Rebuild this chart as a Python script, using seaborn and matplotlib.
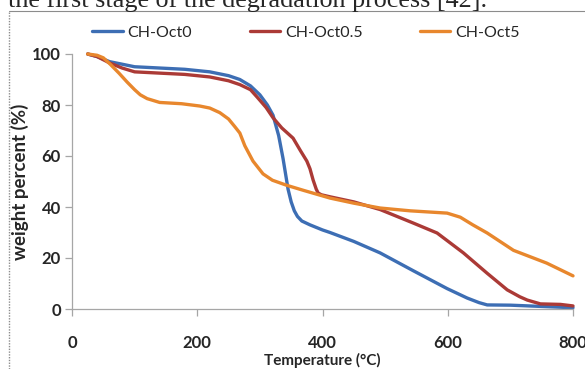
import pandas as pd
import matplotlib
matplotlib.use("Agg")
import matplotlib.pyplot as plt
from matplotlib.lines import Line2D
import seaborn as sns

# --- dados (TGA) ---
temp_oct0 = [25, 40, 60, 80, 100, 140, 180, 220, 250, 268, 285, 300, 312, 321, 330, 337,
             345, 350, 355, 360, 367, 380, 400, 412, 450, 492, 545, 572, 599, 631, 650, 663,
             700, 750, 800]
peso_oct0 = [100, 99, 97, 96, 95, 94.5, 94, 93, 91.5, 90, 87.5, 84, 80, 76, 68, 59,
             47, 42, 38.5, 36.3, 34.5, 33, 31, 30, 26.5, 22, 15, 11.5, 8, 4.3, 2.5, 1.6,
             1.5, 1, 0.5]

temp_oct05 = [25, 40, 60, 80, 100, 140, 180, 220, 250, 268, 285, 296, 310, 321, 335, 353,
              365, 375, 380, 385, 390, 393, 398, 412, 450, 492, 545, 583, 625, 663, 695,
              715, 727, 748, 780, 800]
peso_oct05 = [100, 99, 96.5, 94.5, 93, 92.5, 92, 91, 89.5, 88, 86, 83, 79, 75, 71, 67,
              62, 58, 55, 50.6, 47, 45.5, 44.8, 44, 42, 39, 33.7, 29.8, 22, 14, 7.5,
              4.8, 3.5, 2, 1.8, 1.2]

temp_oct5 = [25, 40, 50, 61, 75, 88, 100, 109, 120, 140, 175, 204, 220, 236, 250, 260,
             268, 276, 289, 305, 320, 343, 370, 412, 450, 492, 540, 599, 620, 640, 663,
             705, 758, 800]
peso_oct5 = [100, 99.5, 98.5, 96, 92.5, 89, 86, 84, 82.5, 81, 80.5, 79.6, 78.8, 77, 74.5, 71.5,
             69, 64, 58, 53, 50.5, 48.5, 46.5, 43.5, 41.5, 39.6, 38.5, 37.6, 36, 33, 29.8,
             23, 18, 13]

amostras = ["CH-Oct0", "CH-Oct0.5", "CH-Oct5"]
cores = ["#3d6eb4", "#ab3a36", "#e8872d"]
x_ticks = [0, 200, 400, 600, 800]
y_ticks = [0, 20, 40, 60, 80, 100]

# monta tabela longa para o seaborn
partes = []
for nome, t, w in zip(amostras, [temp_oct0, temp_oct05, temp_oct5],
                      [peso_oct0, peso_oct05, peso_oct5]):
    partes.append(pd.DataFrame({"T": t, "w": w, "amostra": nome}))
df = pd.concat(partes, ignore_index=True)

sns.set_style("white")
plt.rcParams["font.family"] = ["Lato", "DejaVu Sans"]

fig = plt.figure(figsize=(5.85, 3.69), dpi=100)
ax = fig.add_axes([72 / 585, 1 - 309 / 369, 501 / 585, 255 / 369])

sns.lineplot(data=df, x="T", y="w", hue="amostra", hue_order=amostras,
             palette=cores, estimator=None, linewidth=2.4, ax=ax, clip_on=False)

ax.set_xlim(0, 800)
ax.set_ylim(0, 100)
ax.set_xticks(x_ticks)
ax.set_yticks(y_ticks)
for lbl in ax.get_xticklabels() + ax.get_yticklabels():
    lbl.set_fontweight("bold")
    lbl.set_fontsize(12)

cinza = "#a6a6a6"
for lado in ["top", "right"]:
    ax.spines[lado].set_visible(False)
for lado in ["left", "bottom"]:
    ax.spines[lado].set_color(cinza)
    ax.spines[lado].set_linewidth(0.9)
ax.tick_params(axis="y", direction="out", length=5, width=0.9, color=cinza, pad=3, left=True)
ax.tick_params(axis="x", direction="out", length=5, width=0.9, color=cinza, pad=14, bottom=True)

ax.set_xlabel("Temperature (°C)", fontsize=11, fontweight="bold", labelpad=1)
ax.set_ylabel("weight percent (%)", fontsize=13.5, fontweight="bold", labelpad=2)

# legenda no topo
leg = ax.legend(loc="center", bbox_to_anchor=(306 / 585, 1 - 33 / 369),
                bbox_transform=fig.transFigure, ncol=3, frameon=False,
                fontsize=11.5, handlelength=1.9, handletextpad=0.3, columnspacing=3.6)
for h in leg.get_lines():
    h.set_linewidth(2.4)

# moldura do documento e texto cortado acima
fig.add_artist(Line2D([9 / 585, 1], [1 - 11 / 369, 1 - 11 / 369], color="#8c8c8c",
                      linewidth=0.8, transform=fig.transFigure))
fig.add_artist(Line2D([9 / 585, 9 / 585], [0, 1 - 11 / 369], color="#8c8c8c",
                      linewidth=1.0, linestyle=(0, (1, 1)), transform=fig.transFigure))
fig.text(8 / 585, 1 - 7 / 369, "the first stage of the degradation process [42].",
         fontsize=18.8, family=["Liberation Serif", "DejaVu Serif"], va="baseline", ha="left")

fig.savefig("out.png", dpi=100, facecolor="white")
